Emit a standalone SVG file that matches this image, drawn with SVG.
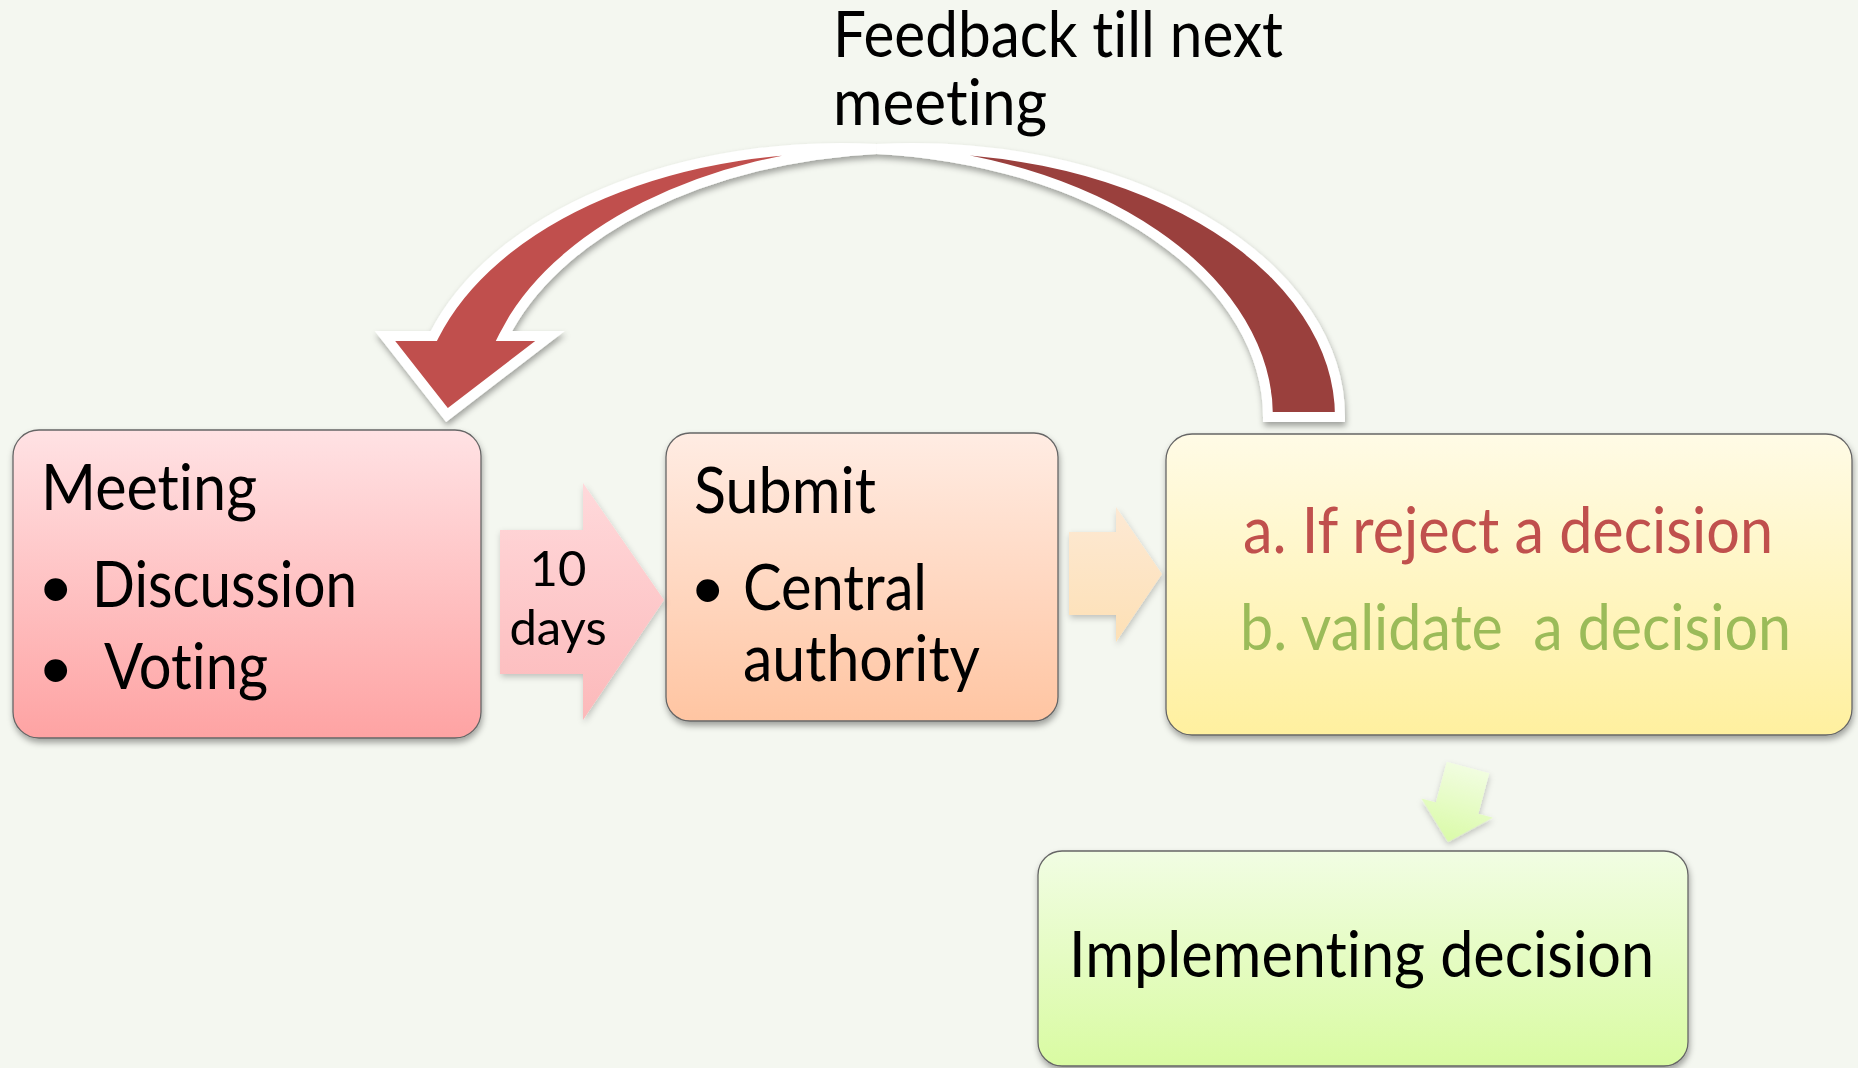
<svg xmlns="http://www.w3.org/2000/svg" width="1858" height="1068" viewBox="0 0 1858 1068">
  <defs>
    <linearGradient id="gMeeting" x1="0" y1="0" x2="0" y2="1">
      <stop offset="0" stop-color="#ffe2e4"/>
      <stop offset="1" stop-color="#fea3a3"/>
    </linearGradient>
    <linearGradient id="gSubmit" x1="0" y1="0" x2="0" y2="1">
      <stop offset="0" stop-color="#ffece3"/>
      <stop offset="1" stop-color="#ffc5a2"/>
    </linearGradient>
    <linearGradient id="gDecision" x1="0" y1="0" x2="0" y2="1">
      <stop offset="0" stop-color="#fffbe6"/>
      <stop offset="1" stop-color="#fff09f"/>
    </linearGradient>
    <linearGradient id="gImpl" x1="0" y1="0" x2="0" y2="1">
      <stop offset="0" stop-color="#f1fde3"/>
      <stop offset="1" stop-color="#d9fba2"/>
    </linearGradient>
    <linearGradient id="gPink" x1="0" y1="0" x2="0" y2="1">
      <stop offset="0" stop-color="#ffd9db"/>
      <stop offset="1" stop-color="#fcb9ba"/>
    </linearGradient>
    <linearGradient id="gPeach" x1="0" y1="0" x2="0" y2="1">
      <stop offset="0" stop-color="#fde9d4"/>
      <stop offset="1" stop-color="#fde0b5"/>
    </linearGradient>
    <linearGradient id="gGreen" x1="0" y1="0" x2="0" y2="1">
      <stop offset="0" stop-color="#f1fde0"/>
      <stop offset="1" stop-color="#dafba8"/>
    </linearGradient>
    <filter id="shadow" x="-10%" y="-10%" width="120%" height="125%">
      <feDropShadow dx="1" dy="4" stdDeviation="3" flood-color="#000" flood-opacity="0.35"/>
    </filter>
    <filter id="softShadow" x="-20%" y="-20%" width="140%" height="140%">
      <feDropShadow dx="1" dy="3" stdDeviation="3" flood-color="#000" flood-opacity="0.22"/>
    </filter>
  </defs>
  <style>
    .box { stroke: #666; stroke-width: 1.3; filter: url(#shadow); }
    .t { font-family: Lato, "Liberation Sans", sans-serif; font-size: 63px; fill: #000; font-variant-ligatures: none; font-feature-settings: "liga" 0, "clig" 0; }
    .small { font-family: Lato, "Liberation Sans", sans-serif; font-size: 49px; fill: #000; text-anchor: middle; font-variant-ligatures: none; }
    .bul { font-family: "Liberation Sans", sans-serif; font-size: 84px; fill: #000; }
    .red { fill: #c0504d; }
    .green { fill: #9bbb59; }
    .band { stroke: #fff; stroke-width: 10; stroke-linejoin: miter; }
  </style>

  <rect width="1858" height="1068" fill="#f4f7f0"/>

  <g id="title">
    <text class="t" x="833" y="57" textLength="450" lengthAdjust="spacingAndGlyphs">Feedback till next</text>
    <text class="t" x="833" y="125" textLength="214" lengthAdjust="spacingAndGlyphs">meeting</text>
  </g>

  <g id="node-meeting">
    <rect class="box" x="13" y="430" width="468" height="308" rx="26" fill="url(#gMeeting)"/>
    <text class="t" x="41" y="510" textLength="216" lengthAdjust="spacingAndGlyphs">Meeting</text>
    <text class="bul" x="41" y="617">•</text>
    <text class="t" x="92" y="607" textLength="265" lengthAdjust="spacingAndGlyphs">Discussion</text>
    <text class="bul" x="41" y="698">•</text>
    <text class="t" x="104" y="689" textLength="164" lengthAdjust="spacingAndGlyphs">Voting</text>
  </g>

  <g id="node-submit">
    <rect class="box" x="666" y="433" width="392" height="288" rx="24" fill="url(#gSubmit)"/>
    <text class="t" x="694" y="513" textLength="182" lengthAdjust="spacingAndGlyphs">Submit</text>
    <text class="bul" x="693" y="618">•</text>
    <text class="t" x="743" y="610" textLength="184" lengthAdjust="spacingAndGlyphs">Central</text>
    <text class="t" x="743" y="681" textLength="237" lengthAdjust="spacingAndGlyphs">authority</text>
  </g>

  <g id="node-decision">
    <rect class="box" x="1166" y="434" width="686" height="301" rx="26" fill="url(#gDecision)"/>
    <text class="t red" x="1243" y="553" textLength="530" lengthAdjust="spacingAndGlyphs">a. If reject a decision</text>
    <text class="t green" x="1240" y="650" textLength="551" lengthAdjust="spacingAndGlyphs" xml:space="preserve">b. validate  a decision</text>
  </g>

  <g id="node-implementing">
    <rect class="box" x="1038" y="851" width="650" height="215" rx="24" fill="url(#gImpl)"/>
    <text class="t" x="1069" y="977" textLength="585" lengthAdjust="spacingAndGlyphs">Implementing decision</text>
  </g>

  <g id="connectors">
    <g id="arrow-10days" filter="url(#softShadow)">
      <polygon points="500,530 583,530 583,483 664,600 583,720 583,674 500,674" fill="url(#gPink)"/>
      <text class="small" x="558" y="586">10</text>
      <text class="small" x="558" y="645">days</text>
    </g>
    <polygon id="arrow-submit-decision" filter="url(#softShadow)" points="1069,532 1116,532 1116,507 1162,574 1116,642 1116,615 1069,615" fill="url(#gPeach)"/>
    <polygon id="arrow-decision-implementing" filter="url(#softShadow)" transform="translate(1468,767.5) rotate(15)" points="-22,0 22,0 22,42 37,42 0,77 -37,42 -22,42" fill="url(#gGreen)"/>
    <g id="arrow-feedback" filter="url(#shadow)">
      <path class="band" fill="#9a3f3e" d="M 876.5 148.9 A 428 269 0 0 1 1340 417 L 1268 417 A 427 269 0 0 0 876.5 148.9 Z"/>
      <path class="band" fill="#c0504d" d="M 433.8 336 A 427 269 0 0 1 876.5 148.9 A 428 269 0 0 0 503.9 336 L 550 336 L 447 415 L 385 336 Z"/>
    </g>
  </g>
</svg>
